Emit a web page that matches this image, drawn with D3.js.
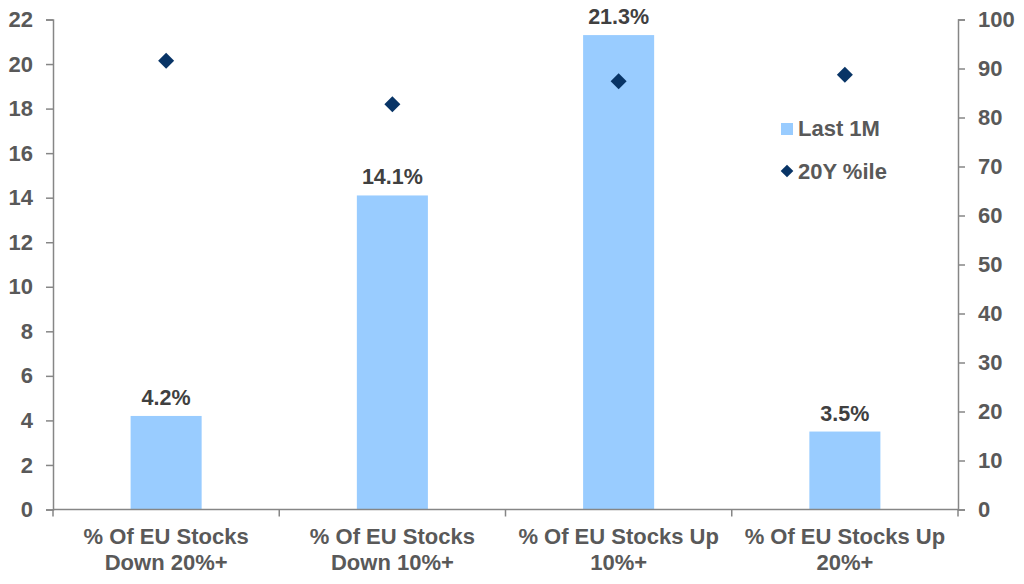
<!DOCTYPE html>
<html>
<head>
<meta charset="utf-8">
<script src="https://cdn.jsdelivr.net/npm/d3@7"></script>
<style>
  body { margin: 0; background: #fff; }
  text { font-family: "Liberation Sans", Arial, sans-serif; font-weight: bold; }
</style>
</head>
<body>
<div id="chart"></div>
<script>
const categories = [
  ['% Of EU Stocks', 'Down 20%+'],
  ['% Of EU Stocks', 'Down 10%+'],
  ['% Of EU Stocks Up', '10%+'],
  ['% Of EU Stocks Up', '20%+']
];
const last1m = [4.2, 14.1, 21.3, 3.5];
const pctile20y = [91.6, 82.7, 87.4, 88.7];
const leftTicks = d3.range(0, 23, 2);
const rightTicks = d3.range(0, 101, 10);

const width = 1024, height = 584;
const margin = {top: 19.5, right: 66, bottom: 74.5, left: 53};
const axisGrey = '#868686';
const labelGrey = '#595959';

const svg = d3.select('#chart').append('svg')
  .attr('width', width)
  .attr('height', height);

const x = d3.scaleBand()
  .domain(d3.range(categories.length))
  .range([margin.left, width - margin.right]);

const yL = d3.scaleLinear().domain([0, 22]).range([height - margin.bottom, margin.top]);
const yR = d3.scaleLinear().domain([0, 100]).range([height - margin.bottom, margin.top]);

const barW = x.bandwidth() * 0.314;

// bars
svg.selectAll('rect.bar')
  .data(last1m)
  .join('rect')
  .attr('class', 'bar')
  .attr('x', (d, i) => x(i) + x.bandwidth() / 2 - barW / 2)
  .attr('y', d => yL(d))
  .attr('width', barW)
  .attr('height', d => yL(0) - yL(d))
  .attr('fill', '#99CCFF');

// bar value labels
svg.selectAll('text.val')
  .data(last1m)
  .join('text')
  .attr('class', 'val')
  .attr('x', (d, i) => x(i) + x.bandwidth() / 2)
  .attr('y', d => yL(d) - 11)
  .attr('text-anchor', 'middle')
  .attr('font-size', 21.5)
  .attr('fill', '#404040')
  .text(d => d.toFixed(1) + '%');

// diamonds
const diamond = d3.symbol().type(d3.symbolSquare).size(128);
svg.selectAll('path.pt')
  .data(pctile20y)
  .join('path')
  .attr('class', 'pt')
  .attr('d', diamond)
  .attr('transform', (d, i) => `translate(${x(i) + x.bandwidth() / 2},${yR(d)}) rotate(45)`)
  .attr('fill', '#083466');

// left axis
const leftAxis = svg.append('g')
  .attr('transform', `translate(${margin.left},0)`)
  .call(d3.axisLeft(yL).tickValues(leftTicks).tickSize(7).tickPadding(13));

// right axis
const rightAxis = svg.append('g')
  .attr('transform', `translate(${width - margin.right},0)`)
  .call(d3.axisRight(yR).tickValues(rightTicks).tickSize(7).tickPadding(13));

[leftAxis, rightAxis].forEach(g => {
  g.select('.domain').attr('stroke', axisGrey).attr('stroke-width', 1.5);
  g.selectAll('.tick line').attr('stroke', axisGrey).attr('stroke-width', 1.5);
  g.selectAll('.tick text')
    .attr('font-size', 22)
    .attr('fill', labelGrey)
    .attr('font-family', '"Liberation Sans", Arial, sans-serif')
    .attr('font-weight', 'bold');
});

// x axis baseline with boundary ticks
const base = yL(0);
svg.append('line')
  .attr('x1', margin.left).attr('x2', width - margin.right)
  .attr('y1', base).attr('y2', base)
  .attr('stroke', axisGrey).attr('stroke-width', 1.5);

const bounds = d3.range(categories.length + 1).map(i =>
  i < categories.length ? x(i) : x(i - 1) + x.bandwidth());
svg.selectAll('line.xt')
  .data(bounds)
  .join('line')
  .attr('class', 'xt')
  .attr('x1', d => d).attr('x2', d => d)
  .attr('y1', base).attr('y2', base + 7)
  .attr('stroke', axisGrey).attr('stroke-width', 1.5);

// category labels
const cat = svg.selectAll('text.cat')
  .data(categories)
  .join('text')
  .attr('class', 'cat')
  .attr('text-anchor', 'middle')
  .attr('font-size', 22)
  .attr('fill', labelGrey);
cat.selectAll('tspan')
  .data((d, i) => d.map(line => ({line, i})))
  .join('tspan')
  .attr('x', d => x(d.i) + x.bandwidth() / 2)
  .attr('y', (d, j) => 544 + j * 26)
  .text(d => d.line);

// legend
const legend = svg.append('g');
legend.append('rect')
  .attr('x', 781).attr('y', 123)
  .attr('width', 12).attr('height', 12)
  .attr('fill', '#99CCFF');
legend.append('text')
  .attr('x', 798).attr('y', 136)
  .attr('font-size', 22).attr('fill', labelGrey)
  .text('Last 1M');
legend.append('path')
  .attr('d', d3.symbol().type(d3.symbolSquare).size(80))
  .attr('transform', 'translate(787,171) rotate(45)')
  .attr('fill', '#083466');
legend.append('text')
  .attr('x', 798).attr('y', 179)
  .attr('font-size', 22).attr('fill', labelGrey)
  .text('20Y %ile');
</script>
</body>
</html>
